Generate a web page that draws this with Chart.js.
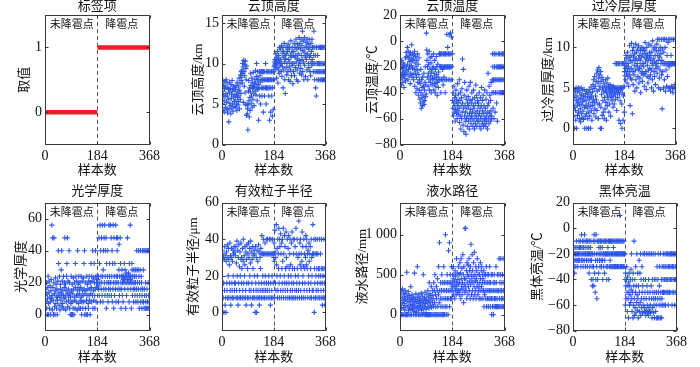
<!DOCTYPE html>
<html>
<head>
<meta charset="utf-8">
<script src="https://cdn.jsdelivr.net/npm/chart.js@4.4.1/dist/chart.umd.min.js"></script>
<style>
  html, body { margin: 0; padding: 0; background: #fff; }
  #wrap { position: relative; width: 700px; height: 367px; overflow: hidden; }
  #wrap canvas { position: absolute; }
</style>
</head>
<body>
<div id="wrap"></div>
<script>
// sample axis
const xTicks = [0, 184, 368];
const splitAt = 184;
const groupNames = ["未降雹点", "降雹点"];
const groupCentres = [94, 270];

// label panel: 0 = no hail, 1 = hail
const labelValues = [0, 1];
const labelRanges = [[1, 184], [185, 368]];

// cloud top height (km)
const cthNo = [
  5.0,6.6,7.9,4.2,6.1,7.3,5.4,4.0,6.9,7.8,5.9,4.6,7.1,6.3,8.0,5.2,4.4,7.6,6.0,3.9,7.0,5.6,6.8,
  2.8,4.3,6.4,7.7,5.1,4.8,6.9,3.8,7.4,5.7,6.2,4.5,7.9,5.0,6.6,4.1,7.2,5.9,6.8,4.7,5.3,7.0,6.1,
  5.5,6.8,4.6,7.3,5.0,6.2,4.2,7.7,5.8,6.5,4.9,7.1,5.3,6.0,8.2,4.4,6.7,7.5,5.6,8.6,6.3,7.9,9.0,
  8.3,9.2,7.6,10.0,8.8,9.6,5.2,10.4,9.0,7.2,9.9,8.5,6.4,10.3,4.9,9.4,8.0,3.6,9.7,5.0,3.8,4.4,1.8,
  4.9,6.6,7.9,5.4,3.4,7.0,5.8,4.2,6.5,8.8,7.3,5.1,6.0,8.2,4.6,7.7,6.9,5.6,8.9,7.1,6.3,4.8,7.5,
  7.2,8.0,6.6,9.1,7.6,6.1,8.4,10.0,7.0,5.4,8.0,9.0,6.8,7.4,3.0,8.0,7.0,9.0,6.0,8.5,7.7,5.0,9.0,
  8.0,9.0,7.0,6.0,8.0,9.0,7.0,8.0,4.0,9.0,7.0,8.0,6.0,9.0,8.0,7.0,10.0,8.0,5.0,7.0,9.0,8.0,7.0,
  8.0,9.0,7.0,8.0,6.0,9.0,8.0,3.0,7.0,9.0,8.0,4.0,7.0,8.0,9.0,6.0,8.0,3.5,7.0,9.0,4.3,8.0,9.0
];
const cthYes = [
  9.6,10.2,9.8,10.5,9.3,10.0,11.2,9.9,10.4,8.2,10.8,9.5,11.5,10.1,7.6,10.6,9.2,11.0,8.8,10.3,12.0,9.7,10.0,
  11.8,10.5,9.0,12.2,10.0,8.4,11.3,9.6,12.0,7.0,10.8,11.5,9.2,12.5,10.2,8.0,11.0,6.3,10.6,12.0,9.5,11.2,8.6,
  10.0,12.0,11.5,9.0,12.4,10.5,8.0,11.8,9.6,12.0,10.2,7.8,11.0,9.2,12.8,10.8,8.5,11.4,9.8,12.0,10.0,7.5,11.0,
  9.0,11.5,10.0,12.5,8.5,10.8,12.0,9.5,11.0,13.0,10.2,8.0,11.8,9.2,12.4,10.6,7.8,11.2,9.8,12.0,13.2,10.4,8.8,
  12.5,10.0,11.8,9.4,13.0,11.0,8.6,12.2,10.5,14.0,9.0,11.6,12.8,10.2,8.0,11.4,13.2,9.8,12.0,10.8,8.4,11.0,12.6,
  10.5,12.0,9.2,13.0,11.2,8.0,12.4,10.0,11.8,9.5,13.0,10.8,12.0,9.0,11.0,8.5,12.5,10.2,11.5,9.8,13.0,10.5,12.0,
  10.0,12.0,9.0,11.0,14.0,10.0,8.0,12.0,9.0,11.0,7.0,10.0,6.0,12.0,9.0,8.0,10.0,11.0,9.0,12.0,10.0,8.0,9.0,
  12.0,10.0,9.0,8.0,12.0,10.0,9.0,8.0,12.0,10.0,9.0,8.0,12.0,10.0,9.0,8.0,12.0,10.0,9.0,8.0,12.0,10.0,9.0
];

// cloud top temperature (°C)
const cttNo = [
  -22,-30,-18,-26,-34,-15,-28,-20,-24,-32,-17,-27,-21,-36,-25,-19,-29,-23,-13,-31,-26,-9,-20,
  -12,-24,-5,-18,-30,-8,-22,-14,-27,-11,-20,-16,-33,-9,-25,-13,-19,-3,-28,-15,-21,-10,-26,
  -14,-30,-11,-22,-8,-35,-17,-25,-12,-40,-20,-28,-15,-37,-23,-10,-32,-18,-42,-26,-13,-38,-30,
  -45,-33,-48,-22,-40,-52,-30,-44,-36,-50,-28,-42,-47,-35,-25,-49,-38,-46,-32,-20,-43,-34,-41,
  6,-7,-15,-28,-20,-10,-35,-25,-18,-30,-8,-38,-22,-13,-32,-27,-17,-40,-24,-12,-34,-29,-21,
  -30,-20,-10,-38,-25,-33,-15,-28,-40,-22,-35,-30,-12,-26,-20,-42,-32,-18,-28,-36,-24,-30,-10,
  -10,-20,-30,-10,-20,-40,-10,-20,-30,-10,-20,-22,-30,-34,-10,-20,-28,-10,-20,-30,-40,-10,-20,
  -10,-20,-30,5,-10,-20,-5,-20,-30,-10,-20,5,-20,-10,-30,-20,6,-10,-20,3,-30,-20,-10
];
const cttYes = [
  -46,-52,-40,-58,-48,-35,-55,-44,-50,-62,-42,-53,-38,-47,-56,-45,-60,-50,-33,-54,-48,-41,-57,
  -52,-30,-63,-46,-58,-40,-68,-50,-44,-60,-37,-55,-14,-48,-65,-22,-52,-70,-42,-58,-32,-50,-62,
  -55,-72,-45,-60,-38,-52,-66,-48,-58,-43,-62,-50,-35,-68,-56,-46,-60,-32,-53,-64,-48,-58,-40,
  -60,-45,-55,-66,-50,-38,-62,-52,-68,-44,-58,-48,-64,-34,-56,-60,-42,-66,-54,-46,-62,-50,-58,
  -48,-62,-40,-56,-66,-52,-44,-60,-68,-50,-36,-58,-64,-46,-54,-62,-42,-66,-56,-50,-60,-38,-64,
  -60,-52,-66,-45,-58,-62,-40,-55,-68,-50,-25,-60,-48,-64,-35,-56,-42,-58,-62,-46,-54,-32,-60,
  -58,-40,-30,-10,-20,-52,-30,-40,-60,-10,-20,-30,-55,-40,-30,-10,-20,-48,-30,-40,-62,-20,-30,
  -10,-20,-30,-40,-10,-20,-30,-40,-20,-30,-10,-40,-20,-30,-10,-40,-20,-30,-10,-40,-20,-30,-40
];

// supercooled layer thickness (km)
const sctNo = [
  4.2,3.0,1.5,4.8,2.6,0,3.8,4.5,2.2,1.0,5.0,3.4,0,4.0,2.8,1.6,4.6,3.2,5.0,2.0,3.6,4.9,1.2,
  3.0,4.4,2.4,0.8,3.7,5.0,1.8,4.1,2.9,1.3,4.7,3.3,2.1,4.0,1.1,3.5,4.8,2.6,0,3.9,1.5,4.3,2.8,
  3.4,1.8,4.6,0,2.5,3.9,1.2,4.2,3.0,0,2.0,4.8,3.6,1.5,4.4,2.7,0,3.8,5.1,2.2,4.0,1.0,3.2,
  4.5,2.8,5.4,3.6,6.0,1.8,4.9,3.2,6.4,2.4,5.2,4.0,1.4,5.8,3.5,6.8,2.2,4.6,7.2,3.0,5.6,1.2,6.2,
  7.5,4.8,3.0,6.6,5.2,0,7.0,2.6,5.8,0,4.2,6.3,1.6,5.0,3.4,6.0,2.0,4.6,5.5,1.2,3.8,5.2,2.4,
  4.6,6.0,3.2,5.0,1.0,4.4,5.6,2.8,4.0,6.2,3.6,5.2,4.8,2.0,5.0,4.2,3.0,5.4,4.6,1.5,5.0,3.8,4.4,
  5.0,4.0,3.4,5.0,4.6,2.6,5.2,4.0,5.0,3.0,4.4,5.0,8.0,4.2,3.6,5.0,4.8,8.0,2.2,5.0,4.4,3.8,8.0,
  5.0,4.6,8.0,1.0,5.0,4.2,8.0,3.4,5.0,0.6,4.8,8.0,5.0,3.0,0,4.4,8.0,5.0,1.0,4.0,8.0,5.2,2.0
];
const sctYes = [
  7.0,6.5,8.2,7.4,6.0,9.0,7.8,6.8,8.6,5.6,7.2,9.4,6.4,8.0,7.6,5.2,8.8,6.6,10.2,7.0,2.8,8.4,6.2,
  9.0,7.4,10.5,6.0,8.2,1.8,9.6,7.0,5.4,8.8,10.0,6.6,7.8,9.2,4.6,8.4,7.2,10.4,6.0,8.6,9.4,5.0,7.6,
  8.0,9.8,6.4,7.2,10.2,8.6,5.6,9.0,7.4,6.2,8.4,9.6,4.4,7.8,8.8,6.8,10.0,7.0,5.8,9.2,8.0,6.6,9.8,
  7.6,8.8,5.2,9.6,6.8,10.6,8.2,7.0,9.2,4.8,8.6,10.0,6.4,7.8,9.0,5.6,8.4,7.2,10.4,6.2,8.8,9.4,7.4,
  9.0,6.6,8.4,10.2,7.2,5.0,9.4,8.0,6.0,10.8,7.8,8.6,4.6,9.8,7.0,8.2,6.4,10.0,9.0,5.4,8.0,7.4,9.6,
  8.0,10.4,6.8,9.0,11.0,7.6,8.4,5.0,9.6,11.0,6.2,8.8,7.2,10.0,4.8,9.2,8.0,11.0,6.6,8.4,2.4,9.8,7.0,
  8.0,11.0,5.0,9.4,8.0,6.0,11.0,8.0,10.0,4.6,8.0,7.2,11.0,5.2,8.0,9.0,6.4,8.0,10.6,5.0,8.0,11.0,7.6,
  8.0,5.0,11.0,8.0,4.6,8.0,9.0,5.2,8.0,11.0,8.0,5.0,8.0,4.4,8.0,11.0,8.0,5.0,8.0,8.0,5.4,11.0,8.0
];

// optical thickness
const optNo = [
  12,0,16,8,20,4,13,0,10,17,24,7,0,14,21,4,11,18,8,0,15,22,10,
  56,12,3,48,17,9,0,20,48,13,5,0,15,23,7,19,11,4,16,0,9,21,12,
  40,32,14,6,24,11,3,19,16,9,28,13,40,5,21,7,15,12,24,4,10,17,20,
  48,11,19,3,15,8,24,32,13,48,5,21,16,9,12,40,20,4,14,0,11,7,24,
  0,15,8,19,0,13,4,23,16,0,9,20,11,4,32,17,24,8,12,21,3,15,40,
  12,19,7,24,4,16,13,20,9,4,17,24,11,0,8,21,15,4,12,23,8,32,16,
  40,0,13,20,4,15,0,9,24,12,19,0,16,7,4,21,12,24,9,16,0,20,13,
  32,17,8,24,21,12,40,4,15,23,9,32,20,12,4,16,40,24,8,20,17,22,24
];
const optYes = [
  20,22,18,24,16,48,12,32,20,56,8,40,24,16,48,20,12,56,24,8,28,40,16,
  48,20,56,12,24,40,16,48,4,32,20,12,24,40,8,20,16,56,12,24,32,20,16,
  56,20,48,12,24,40,8,32,16,56,20,4,48,24,12,32,20,16,56,8,24,48,20,
  40,24,48,16,20,8,28,44,12,24,16,48,32,20,4,24,16,28,12,20,24,8,22,
  24,20,32,22,16,28,24,4,20,26,12,24,20,48,22,16,24,26,20,8,32,24,20,
  56,22,16,24,4,20,32,28,12,24,20,16,8,28,20,24,16,12,28,20,8,24,16,
  40,28,12,20,8,28,16,40,24,4,20,12,28,40,8,16,24,20,4,12,40,16,8,
  28,8,40,4,16,12,40,4,20,8,40,12,4,16,40,8,4,20,40,12,4,8,40
];

// effective particle radius (μm)
const erNo = [
  34,0,32,8,30,16,0,29,12,36,4,31,8,0,28,33,16,12,37,8,30,20,35,
  29,8,26,16,38,12,31,4,8,30,35,16,12,28,8,34,20,32,8,36,12,16,33,
  31,16,36,8,27,12,39,20,8,34,4,30,16,37,8,25,12,33,20,8,38,29,16,
  30,24,8,35,12,28,40,16,8,31,20,26,36,8,12,33,4,29,16,37,8,24,32,
  8,38,16,30,12,35,20,8,27,39,12,33,4,16,29,8,36,24,31,12,8,34,20,
  32,8,0,36,16,12,30,0,8,34,20,28,12,8,37,16,33,4,8,30,12,24,35,
  32,8,16,42,12,32,20,8,40,32,12,16,8,32,38,20,12,32,8,16,40,32,12,
  40,32,8,16,20,32,12,40,8,32,4,16,40,32,8,12,20,32,40,8,16,32,30
];
const erYes = [
  38,28,8,45,33,16,30,12,48,26,20,35,8,40,12,32,24,46,16,8,40,36,20,
  43,12,32,8,38,24,16,40,28,12,46,8,32,20,42,16,36,12,24,8,44,30,16,
  25,40,12,8,35,20,42,16,24,8,32,40,12,26,20,8,38,16,44,12,24,8,40,
  32,16,8,40,24,12,36,20,8,46,32,12,16,40,24,8,30,20,12,50,32,16,8,
  38,26,40,12,24,32,8,28,44,16,36,20,8,25,40,12,32,24,16,8,30,42,36,
  26,40,12,24,32,8,34,16,20,38,28,12,32,8,36,24,16,40,8,30,20,12,32,
  48,12,32,8,40,0,24,16,32,8,40,20,12,32,24,8,40,16,32,12,24,20,8,
  24,40,8,16,32,20,12,24,40,8,16,4,24,20,8,12,40,24,16,8,4,20,12
];

// liquid water path (mm)
const lwpNo = [
  250,0,120,300,80,0,210,150,320,0,180,90,270,0,140,230,60,300,0,190,110,260,0,
  530,170,0,220,100,290,50,0,160,240,80,200,0,130,350,70,190,0,250,110,60,170,220,
  120,0,210,80,520,150,40,0,190,260,100,30,0,170,600,90,220,140,0,60,250,110,180,
  0,200,90,150,0,270,60,180,120,0,230,80,500,160,20,0,210,100,280,140,0,190,70,
  0,180,250,100,0,300,150,0,220,80,400,0,170,260,120,0,200,350,90,0,240,150,300,
  0,200,100,400,0,300,150,500,0,250,100,0,350,200,0,300,450,100,0,250,600,0,150,
  900,300,0,200,400,100,0,300,500,200,0,400,100,300,0,600,200,400,0,300,100,1000,200,
  400,0,300,100,500,200,400,0,300,800,200,400,900,100,300,500,200,400,300,600,200,350,400
];
const lwpYes = [
  380,300,450,600,250,500,350,420,200,550,300,480,360,250,700,400,320,520,280,440,380,600,300,
  500,250,400,650,300,520,200,700,450,350,580,250,400,750,320,500,150,600,380,450,280,1080,350,
  1080,450,300,550,200,650,400,500,250,620,350,480,700,300,550,420,200,600,380,880,500,250,450,
  750,300,550,400,200,650,480,350,780,250,500,420,300,600,200,450,550,350,700,400,250,500,300,
  600,350,200,500,400,300,650,450,200,550,350,600,300,400,500,200,450,300,550,100,400,250,500,
  300,500,200,400,600,100,300,500,200,400,300,100,500,200,400,300,600,200,100,400,300,500,200,
  0,300,500,100,200,400,0,300,100,500,200,400,300,100,200,600,400,100,300,200,500,100,300,
  100,300,500,700,200,100,400,300,500,700,100,200,300,400,100,500,200,700,300,100,400,200,500
];

// black body brightness temperature (°C)
const btNo = [
  -20,-25,-15,-30,-35,-20,-25,-15,-20,-30,-25,-10,-20,-15,-25,-20,-30,-15,-20,-25,-10,-20,-15,
  -25,-20,-10,-15,-30,-20,-5,-25,-15,-20,-10,-25,-30,-15,-20,-10,-25,-5,-20,-15,-30,-20,-10,
  -20,-25,-10,-15,-30,-20,-10,-25,-20,-15,-35,-10,-20,-30,-25,-15,-20,-10,-40,-25,-20,-30,-45,
  -20,-40,-10,-30,-45,-5,-20,-35,-10,-50,-25,-40,-5,-20,-30,-55,-10,-25,-40,-20,-10,-35,-15,
  -10,-25,-20,-30,-15,-10,-20,-25,-30,-10,-20,-15,-25,-40,-10,-20,-30,-20,-10,-35,-25,-20,-10,
  -20,-10,-30,-20,-40,-10,-20,-30,-15,-20,-10,-40,-20,-30,-10,-20,-25,-10,-30,-20,-10,-20,-30,
  -10,-20,-30,-10,-20,-15,-30,-10,-20,-30,-10,-20,-30,-20,-10,-30,-20,-10,-20,-30,-10,-20,-30,
  -20,-10,-30,-20,-10,10,-20,-30,-10,-20,-30,-20,-10,-30,-20,-10,-20,-30,-20,-10,-30,-20,-20
];
const btYes = [
  -40,-60,-35,-45,-55,-40,-30,-50,-65,-38,-45,-55,-70,-42,-50,-35,-60,-45,-52,-40,-58,-32,-48,
  -20,-55,-65,-40,-50,-70,-35,-60,-45,-10,-55,-68,-40,-62,-50,-30,-66,-45,-58,-20,-52,-64,-35,
  -55,-70,-45,-60,-25,-50,-65,-35,-58,-20,-68,-40,-55,-62,-30,-50,-66,-45,-20,-60,-40,-55,-65,
  -20,-62,-50,-66,-40,-68,-55,-20,-64,-45,-60,-66,-50,-20,-68,-40,-62,-55,-65,-20,-50,-60,-66,
  -65,-45,-20,-55,-70,-40,-62,-50,-20,-66,-55,-60,-40,-70,-50,-20,-55,-65,-40,-60,-50,-70,-30,
  -70,-55,-40,-20,-50,-70,-60,-45,-30,-55,-70,-20,-50,-60,-40,-70,-55,-30,-50,-60,-40,-20,-50,
  -30,-60,-40,-50,-20,-30,-60,-40,-50,-20,-40,-30,-50,-20,-40,-50,-60,-30,-20,-40,-50,-30,-20,
  -20,-40,-50,-30,-20,-40,-60,-20,-30,-50,-40,-20,-30,-50,-20,-40,-60,-20,-30,-40,-50,-20,-20
];

const FONT = "'Liberation Serif', 'Noto Sans CJK SC', serif";
const BLUE = "#2d55ec";
const RED = "#ee1c25";

// layout: plot left / width in page px, row 0 = top, 1 = bottom, gap = y title centre left of plot
const panels = [
  { title: "标签项", yTitle: "取值", label: true, yMin: -0.5, yMax: 1.5, yTicks: [0, 1], left: 45, width: 105.5, row: 0, gap: 20 },
  { title: "云顶高度", yTitle: "云顶高度/km", no: cthNo, yes: cthYes, yMin: 0, yMax: 16, yTicks: [0, 5, 10, 15], left: 222, width: 105, row: 0, gap: 23.5 },
  { title: "云顶温度", yTitle: "云顶温度/℃", no: cttNo, yes: cttYes, yMin: -80, yMax: 20, yTicks: [-80, -60, -40, -20, 0, 20], left: 400, width: 105.7, row: 0, gap: 27.7 },
  { title: "过冷层厚度", yTitle: "过冷层厚度/km", no: sctNo, yes: sctYes, yMin: -2, yMax: 14, yTicks: [0, 5, 10], left: 573, width: 104, row: 0, gap: 24.7 },
  { title: "光学厚度", yTitle: "光学厚度", no: optNo, yes: optYes, yMin: -10, yMax: 70, yTicks: [0, 20, 40, 60], left: 45, width: 106, row: 1, gap: 23.3 },
  { title: "有效粒子半径", yTitle: "有效粒子半径/μm", no: erNo, yes: erYes, yMin: -10, yMax: 60, yTicks: [0, 20, 40, 60], left: 222, width: 105, row: 1, gap: 28.4 },
  { title: "液水路径", yTitle: "液水路径/mm", no: lwpNo, yes: lwpYes, yMin: -200, yMax: 1400, yTicks: [0, 500, 1000], left: 400, width: 105.7, row: 1, gap: 37 },
  { title: "黑体亮温", yTitle: "黑体亮温/℃", no: btNo, yes: btYes, yMin: -80, yMax: 20, yTicks: [-80, -60, -40, -20, 0, 20], left: 573, width: 105, row: 1, gap: 35 },
];

const rows = [
  { top: 0, height: 180, plotTop: 15, plotBottom: 144.5, titleLift: 8 },
  { top: 183, height: 184, plotTop: 202.7, plotBottom: 330.7, titleLift: 11.5 },
];

const AXIS_W = 50;
const PAD_R = 12;

function fmtTick(v) {
  const s = Math.abs(v) >= 1000 ? String(Math.abs(v)).replace(/(\d)(\d{3})$/, "$1 $2") : String(Math.abs(v));
  return (v < 0 ? "\u2212" : "") + s;
}

function scatterPoints(values, start) {
  return values.map((v, i) => ({ x: start + i, y: v }));
}

const frame = {
  id: "frame",
  beforeDatasetsDraw(chart) {
    const { ctx, chartArea: a, scales: { x } } = chart;
    const px = Math.round(x.getPixelForValue(splitAt)) + 0.5;
    ctx.save();
    ctx.strokeStyle = "#555";
    ctx.lineWidth = 1;
    ctx.setLineDash([4, 3]);
    ctx.beginPath();
    ctx.moveTo(px, a.top);
    ctx.lineTo(px, a.bottom);
    ctx.stroke();
    ctx.restore();
  },
  afterDraw(chart, args, opts) {
    const { ctx, chartArea: a, scales: { x, y } } = chart;
    const L = Math.round(a.left) + 0.5, R = Math.round(a.right) - 0.5;
    const T = Math.round(a.top) + 0.5, B = Math.round(a.bottom) - 0.5;
    ctx.save();
    ctx.strokeStyle = "#3a3a3a";
    ctx.lineWidth = 1;
    ctx.strokeRect(L, T, R - L, B - T);
    ctx.beginPath();
    for (const t of y.ticks) {
      const py = Math.round(y.getPixelForValue(t.value)) + 0.5;
      ctx.moveTo(L, py); ctx.lineTo(L + 3, py);
      ctx.moveTo(R, py); ctx.lineTo(R - 3, py);
    }
    for (const t of x.ticks) {
      const px = Math.round(x.getPixelForValue(t.value)) + 0.5;
      ctx.moveTo(px, B); ctx.lineTo(px, B - 3);
      ctx.moveTo(px, T); ctx.lineTo(px, T + 3);
    }
    ctx.stroke();
    ctx.fillStyle = "#111";
    ctx.textAlign = "center";
    ctx.textBaseline = "middle";
    // panel title
    ctx.font = "13px " + FONT;
    ctx.fillText(opts.title, (a.left + a.right) / 2, a.top - opts.lift);
    // group labels
    ctx.font = "11px " + FONT;
    groupNames.forEach((g, i) => ctx.fillText(g, x.getPixelForValue(groupCentres[i]), a.top + 10));
    ctx.restore();
  },
};

Chart.defaults.font.family = FONT;
Chart.defaults.color = "#111";

function makeChart(p) {
  const r = rows[p.row];
  const cv = document.createElement("canvas");
  const w = Math.round(AXIS_W + p.width + PAD_R);
  const cl = Math.round(p.left) - AXIS_W;
  cv.width = w;
  cv.height = r.height;
  cv.style.left = cl + "px";
  cv.style.top = r.top + "px";
  cv.style.width = w + "px";
  cv.style.height = r.height + "px";
  document.getElementById("wrap").appendChild(cv);

  let datasets;
  if (p.label) {
    datasets = labelValues.map((v, i) => ({
      data: labelRanges[i].map((s) => ({ x: s, y: v })),
      showLine: true,
      borderColor: RED,
      backgroundColor: RED,
      borderWidth: 4.5,
      pointRadius: 0,
    }));
  } else {
    datasets = [
      { data: scatterPoints(p.no, 1) },
      { data: scatterPoints(p.yes, splitAt + 1) },
    ].map((d) => Object.assign(d, {
      pointStyle: "cross",
      pointRadius: 2.6,
      pointBorderWidth: 1.1,
      borderColor: BLUE,
      backgroundColor: BLUE,
    }));
  }

  const xAxisH = r.height - (r.plotBottom - r.top);
  const titleCentre = AXIS_W - p.gap;

  return new Chart(cv, {
    type: "scatter",
    data: { datasets },
    options: {
      responsive: false,
      animation: false,
      devicePixelRatio: 1,
      layout: { padding: { left: 0, right: w - AXIS_W - p.width, top: r.plotTop - r.top, bottom: 0 } },
      plugins: {
        legend: { display: false },
        tooltip: { enabled: false },
        title: { display: false, text: p.title },
        frame: { title: p.title, lift: r.titleLift },
      },
      scales: {
        x: {
          type: "linear",
          min: 0,
          max: 368,
          afterBuildTicks: (s) => { s.ticks = xTicks.map((v) => ({ value: v })); },
          afterFit: (s) => { s.height = xAxisH; },
          grid: { display: false, drawTicks: false },
          border: { display: false },
          ticks: { padding: 3, font: { size: 14 }, color: "#111", maxRotation: 0, autoSkip: false },
          title: { display: true, text: "样本数", font: { size: 13, lineHeight: 1.2 }, color: "#111", padding: { top: 0, bottom: 2 } },
        },
        y: {
          type: "linear",
          min: p.yMin,
          max: p.yMax,
          afterBuildTicks: (s) => { s.ticks = p.yTicks.map((v) => ({ value: v })); },
          afterFit: (s) => { s.width = AXIS_W; },
          grid: { display: false, drawTicks: false },
          border: { display: false },
          ticks: { padding: 3, font: { size: 14 }, color: "#111", autoSkip: false, callback: (v) => fmtTick(v) },
          title: { display: true, text: p.yTitle, font: { size: 13, lineHeight: 1.2 }, color: "#111", padding: { top: titleCentre - 7.8, bottom: 0 } },
        },
      },
    },
    plugins: [frame],
  });
}

panels.forEach(makeChart);
</script>
</body>
</html>
